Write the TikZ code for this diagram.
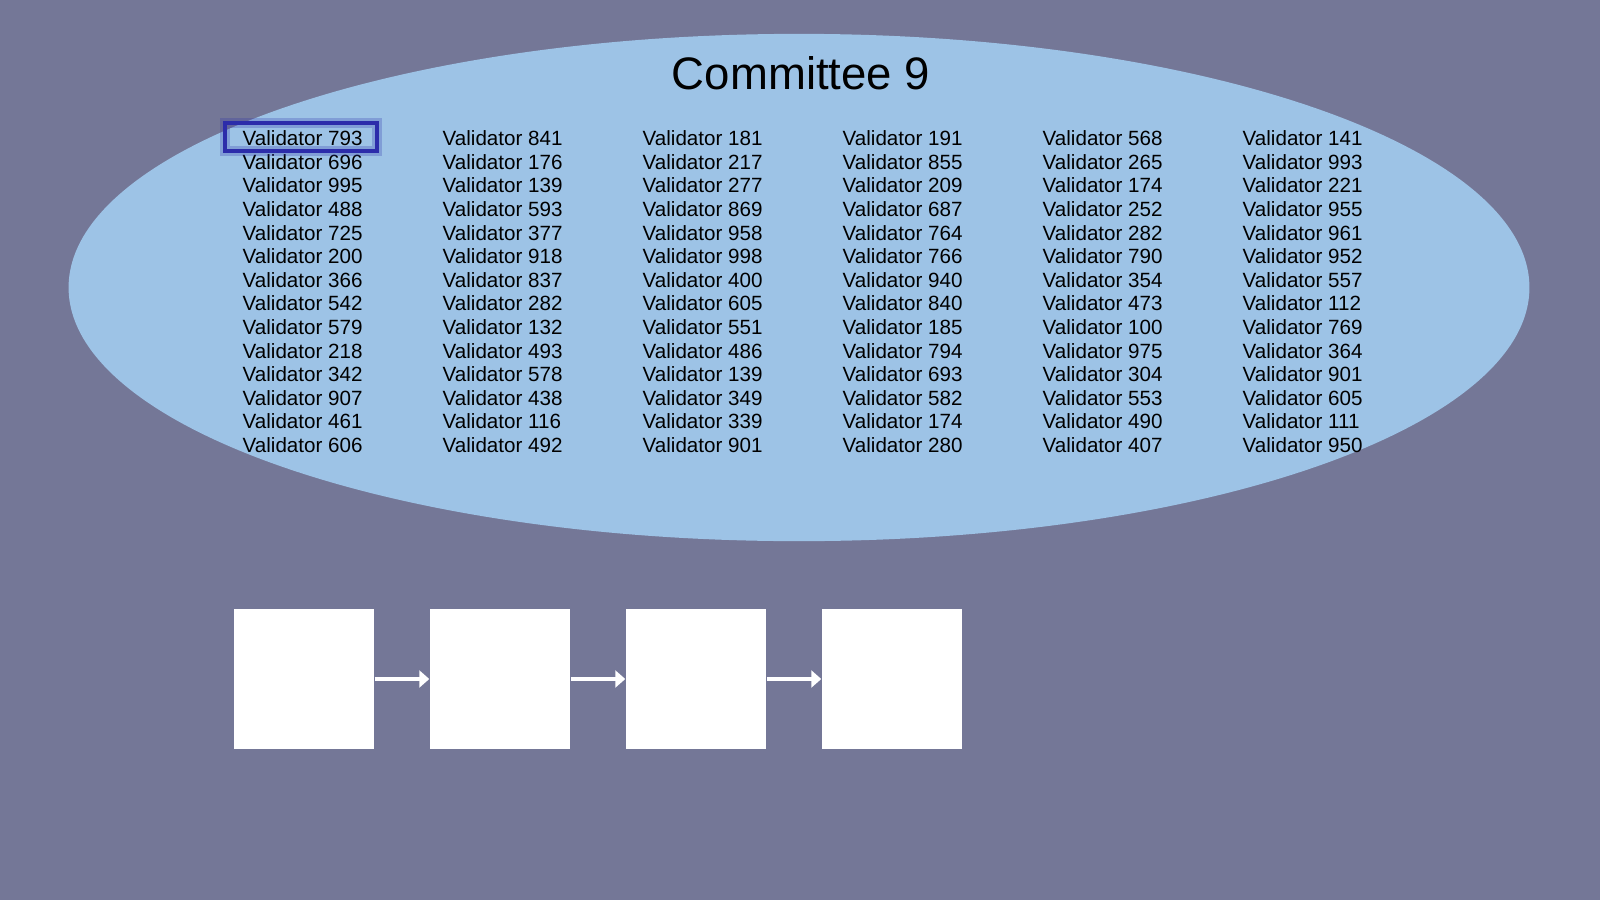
\documentclass[tikz,border=0pt]{standalone}
\usepackage{fontspec}
\setmainfont{Liberation Sans}
\usetikzlibrary{arrows.meta}
\definecolor{slate}{RGB}{116,119,151}
\definecolor{poolblue}{RGB}{157,195,230}
\definecolor{pickblue}{RGB}{44,44,170}
\tikzset{
	val/.style={anchor=base west, inner sep=0pt, text=black, font=\fontsize{5.86pt}{7pt}\selectfont},
	title/.style={anchor=base, inner sep=0pt, text=black, font=\fontsize{12.95pt}{15pt}\selectfont},
	blk/.style={fill=white, minimum size=1.4cm, inner sep=0pt},
	link/.style={draw=white, line width=1.1pt, -{Triangle[length=0.1cm, width=0.17cm]}}
}
\begin{document}
\begin{tikzpicture}[x=0.01cm, y=-0.01cm]
	\fill[slate] (0,0) rectangle (1600,900);
	\useasboundingbox (0,0) rectangle (1600,900);
	\fill[poolblue] (799,287.5) ellipse [x radius=7.3cm, y radius=2.535cm];
	\node[title] (comm) at (801,90) {Committee 9};
	% column 1
	\node[val] (v1-1) at (242,145.6) {Validator 793};
	\node[val] (v2-1) at (242,169.2) {Validator 696};
	\node[val] (v3-1) at (242,192.8) {Validator 995};
	\node[val] (v4-1) at (242,216.4) {Validator 488};
	\node[val] (v5-1) at (242,240) {Validator 725};
	\node[val] (v6-1) at (242,263.6) {Validator 200};
	\node[val] (v7-1) at (242,287.2) {Validator 366};
	\node[val] (v8-1) at (242,310.8) {Validator 542};
	\node[val] (v9-1) at (242,334.4) {Validator 579};
	\node[val] (v10-1) at (242,358) {Validator 218};
	\node[val] (v11-1) at (242,381.6) {Validator 342};
	\node[val] (v12-1) at (242,405.2) {Validator 907};
	\node[val] (v13-1) at (242,428.8) {Validator 461};
	\node[val] (v14-1) at (242,452.4) {Validator 606};
	% column 2
	\node[val] (v1-2) at (442,145.6) {Validator 841};
	\node[val] (v2-2) at (442,169.2) {Validator 176};
	\node[val] (v3-2) at (442,192.8) {Validator 139};
	\node[val] (v4-2) at (442,216.4) {Validator 593};
	\node[val] (v5-2) at (442,240) {Validator 377};
	\node[val] (v6-2) at (442,263.6) {Validator 918};
	\node[val] (v7-2) at (442,287.2) {Validator 837};
	\node[val] (v8-2) at (442,310.8) {Validator 282};
	\node[val] (v9-2) at (442,334.4) {Validator 132};
	\node[val] (v10-2) at (442,358) {Validator 493};
	\node[val] (v11-2) at (442,381.6) {Validator 578};
	\node[val] (v12-2) at (442,405.2) {Validator 438};
	\node[val] (v13-2) at (442,428.8) {Validator 116};
	\node[val] (v14-2) at (442,452.4) {Validator 492};
	% column 3
	\node[val] (v1-3) at (642,145.6) {Validator 181};
	\node[val] (v2-3) at (642,169.2) {Validator 217};
	\node[val] (v3-3) at (642,192.8) {Validator 277};
	\node[val] (v4-3) at (642,216.4) {Validator 869};
	\node[val] (v5-3) at (642,240) {Validator 958};
	\node[val] (v6-3) at (642,263.6) {Validator 998};
	\node[val] (v7-3) at (642,287.2) {Validator 400};
	\node[val] (v8-3) at (642,310.8) {Validator 605};
	\node[val] (v9-3) at (642,334.4) {Validator 551};
	\node[val] (v10-3) at (642,358) {Validator 486};
	\node[val] (v11-3) at (642,381.6) {Validator 139};
	\node[val] (v12-3) at (642,405.2) {Validator 349};
	\node[val] (v13-3) at (642,428.8) {Validator 339};
	\node[val] (v14-3) at (642,452.4) {Validator 901};
	% column 4
	\node[val] (v1-4) at (842,145.6) {Validator 191};
	\node[val] (v2-4) at (842,169.2) {Validator 855};
	\node[val] (v3-4) at (842,192.8) {Validator 209};
	\node[val] (v4-4) at (842,216.4) {Validator 687};
	\node[val] (v5-4) at (842,240) {Validator 764};
	\node[val] (v6-4) at (842,263.6) {Validator 766};
	\node[val] (v7-4) at (842,287.2) {Validator 940};
	\node[val] (v8-4) at (842,310.8) {Validator 840};
	\node[val] (v9-4) at (842,334.4) {Validator 185};
	\node[val] (v10-4) at (842,358) {Validator 794};
	\node[val] (v11-4) at (842,381.6) {Validator 693};
	\node[val] (v12-4) at (842,405.2) {Validator 582};
	\node[val] (v13-4) at (842,428.8) {Validator 174};
	\node[val] (v14-4) at (842,452.4) {Validator 280};
	% column 5
	\node[val] (v1-5) at (1042,145.6) {Validator 568};
	\node[val] (v2-5) at (1042,169.2) {Validator 265};
	\node[val] (v3-5) at (1042,192.8) {Validator 174};
	\node[val] (v4-5) at (1042,216.4) {Validator 252};
	\node[val] (v5-5) at (1042,240) {Validator 282};
	\node[val] (v6-5) at (1042,263.6) {Validator 790};
	\node[val] (v7-5) at (1042,287.2) {Validator 354};
	\node[val] (v8-5) at (1042,310.8) {Validator 473};
	\node[val] (v9-5) at (1042,334.4) {Validator 100};
	\node[val] (v10-5) at (1042,358) {Validator 975};
	\node[val] (v11-5) at (1042,381.6) {Validator 304};
	\node[val] (v12-5) at (1042,405.2) {Validator 553};
	\node[val] (v13-5) at (1042,428.8) {Validator 490};
	\node[val] (v14-5) at (1042,452.4) {Validator 407};
	% column 6
	\node[val] (v1-6) at (1242,145.6) {Validator 141};
	\node[val] (v2-6) at (1242,169.2) {Validator 993};
	\node[val] (v3-6) at (1242,192.8) {Validator 221};
	\node[val] (v4-6) at (1242,216.4) {Validator 955};
	\node[val] (v5-6) at (1242,240) {Validator 961};
	\node[val] (v6-6) at (1242,263.6) {Validator 952};
	\node[val] (v7-6) at (1242,287.2) {Validator 557};
	\node[val] (v8-6) at (1242,310.8) {Validator 112};
	\node[val] (v9-6) at (1242,334.4) {Validator 769};
	\node[val] (v10-6) at (1242,358) {Validator 364};
	\node[val] (v11-6) at (1242,381.6) {Validator 901};
	\node[val] (v12-6) at (1242,405.2) {Validator 605};
	\node[val] (v13-6) at (1242,428.8) {Validator 111};
	\node[val] (v14-6) at (1242,452.4) {Validator 950};
	% highlighted validator
	\draw[pickblue, opacity=0.25, line width=3pt] (225,123) rectangle (377,151);
	\draw[pickblue, line width=1.1pt] (225,123) rectangle (377,151);
	% chain of blocks
	\node[blk] (b1) at (304,679) {};
	\node[blk] (b2) at (500,679) {};
	\node[blk] (b3) at (696,679) {};
	\node[blk] (b4) at (892,679) {};
	\draw[link] (b1) -- (b2);
	\draw[link] (b2) -- (b3);
	\draw[link] (b3) -- (b4);
\end{tikzpicture}
\end{document}
